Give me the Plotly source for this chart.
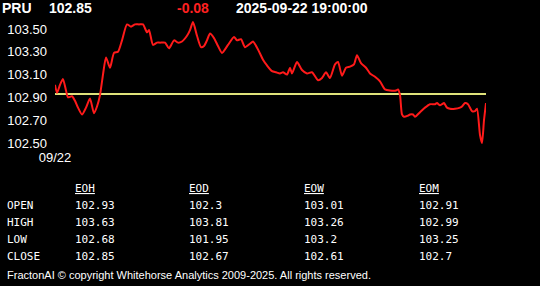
import plotly.graph_objects as go

# ---- data ----
symbol = "PRU"
last_price = "102.85"
change = "-0.08"
timestamp = "2025-09-22 19:00:00"
x_label = "09/22"

t_idx = [0, 2, 5, 8, 11, 13, 17, 20, 23, 27, 31, 35, 39, 42, 45, 48, 51, 55, 59, 63,
         67, 72, 76, 80, 84, 88, 92, 94, 98, 102, 105, 110, 114, 119, 123, 127, 132, 135,
         138, 142, 146, 149, 152, 155, 159, 163, 167, 173, 179, 182, 186, 190, 195, 198,
         203, 208, 212, 217, 221, 225, 228, 232, 235, 237, 242, 247, 252, 257, 263, 267,
         271, 275, 280, 283, 287, 291, 295, 299, 302, 306, 311, 315, 320, 325, 330, 335,
         341, 343, 345, 347, 349, 353, 355, 358, 360, 365, 370, 375, 380, 382, 385, 387,
         389, 392, 395, 400, 405, 407, 410, 413, 417, 420, 422, 425, 427, 429, 431]
price = [103.01, 102.94, 103.01, 103.06, 102.96, 102.90, 102.91, 102.87, 102.81, 102.75,
         102.81, 102.89, 102.76, 102.82, 102.92, 103.10, 103.25, 103.16, 103.29, 103.30,
         103.40, 103.54, 103.52, 103.54, 103.54, 103.54, 103.47, 103.49, 103.36, 103.38,
         103.38, 103.38, 103.33, 103.40, 103.38, 103.39, 103.44, 103.49, 103.56, 103.44,
         103.34, 103.35, 103.40, 103.46, 103.42, 103.35, 103.29, 103.36, 103.43, 103.40,
         103.41, 103.34, 103.37, 103.39, 103.32, 103.23, 103.18, 103.13, 103.12, 103.11,
         103.12, 103.10, 103.16, 103.11, 103.21, 103.14, 103.11, 103.12, 103.05, 103.07,
         103.12, 103.07, 103.19, 103.21, 103.09, 103.16, 103.17, 103.19, 103.27, 103.20,
         103.16, 103.11, 103.08, 103.04, 102.97, 102.96, 102.96, 102.97, 102.92, 102.75,
         102.73, 102.74, 102.75, 102.75, 102.73, 102.77, 102.81, 102.84, 102.84, 102.85,
         102.83, 102.84, 102.85, 102.81, 102.80, 102.80, 102.81, 102.82, 102.85, 102.84,
         102.78, 102.78, 102.80, 102.57, 102.50, 102.70, 102.85]
ref_level = 102.93

y_ticks = [102.50, 102.70, 102.90, 103.10, 103.30, 103.50]

table_cols = ["EOH", "EOD", "EOW", "EOM"]
row_labels = ["OPEN", "HIGH", "LOW", "CLOSE"]
open_vals = ["102.93", "102.3", "103.01", "102.91"]
high_vals = ["103.63", "103.81", "103.26", "102.99"]
low_vals = ["102.68", "101.95", "103.2", "103.25"]
close_vals = ["102.85", "102.67", "102.61", "102.7"]
footer = "FractonAI © copyright Whitehorse Analytics 2009-2025. All rights reserved."

# ---- layout geometry (pixels) ----
W, H = 540, 286
L, R, T, B = 55, 54, 18, 138
PW, PH = W - L - R, H - T - B


def px(xp):
    return (xp - L) / PW


def py(yp):
    return (H - B - yp) / PH


fig = go.Figure()
fig.add_trace(go.Scatter(x=[t_idx[0], t_idx[-1]], y=[ref_level, ref_level], mode="lines",
                         line=dict(color="#dfe27a", width=2), hoverinfo="skip"))
fig.add_trace(go.Scatter(x=t_idx, y=price, mode="lines",
                         line=dict(color="#ff1a1a", width=2, shape="spline", smoothing=0.6)))

ann = []
for txt, xp, col in [(symbol, 0, "white"), (last_price, 47, "white"),
                     (change, 175, "#ff2020"), (timestamp, 234, "white")]:
    ann.append(dict(text="<b>%s</b>" % txt, x=px(xp), y=py(8), xref="paper", yref="paper",
                    xanchor="left", yanchor="middle", showarrow=False,
                    font=dict(family="Arial", size=14, color=col)))

mono = dict(family="DejaVu Sans Mono", size=11, color="white")
col_x = [73, 187, 302, 417]
row_y = [205, 222, 239, 256]
for c, xp in zip(table_cols, col_x):
    ann.append(dict(text="<u>%s</u>" % c, x=px(xp), y=py(188), xref="paper", yref="paper",
                    xanchor="left", yanchor="middle", showarrow=False, font=mono))
for lab, yp in zip(row_labels, row_y):
    ann.append(dict(text=lab, x=px(5), y=py(yp), xref="paper", yref="paper",
                    xanchor="left", yanchor="middle", showarrow=False, font=mono))
for vals, yp in zip([open_vals, high_vals, low_vals, close_vals], row_y):
    for v, xp in zip(vals, col_x):
        ann.append(dict(text=v, x=px(xp), y=py(yp), xref="paper", yref="paper",
                        xanchor="left", yanchor="middle", showarrow=False, font=mono))
ann.append(dict(text=footer, x=px(5), y=py(275), xref="paper", yref="paper",
                xanchor="left", yanchor="middle", showarrow=False,
                font=dict(family="Arial", size=11, color="white")))

fig.update_layout(
    width=W, height=H, margin=dict(l=L, r=R, t=T, b=B, pad=0, autoexpand=False),
    paper_bgcolor="black", plot_bgcolor="black", showlegend=False,
    annotations=ann,
    xaxis=dict(range=[t_idx[0], t_idx[-1]], showgrid=False, zeroline=False, showline=False,
               tickmode="array", tickvals=[t_idx[0]], ticktext=[x_label], automargin=False,
               tickfont=dict(family="Arial", size=13, color="white"), ticks=""),
    yaxis=dict(range=[102.456, 103.596], showgrid=False, zeroline=False, showline=False,
               tickmode="array", tickvals=y_ticks, ticktext=["%.2f" % v for v in y_ticks],
               tickfont=dict(family="Arial", size=13, color="white"), ticks="",
               ticklabelstandoff=7, automargin=False),
)

fig.write_html("out.html")
